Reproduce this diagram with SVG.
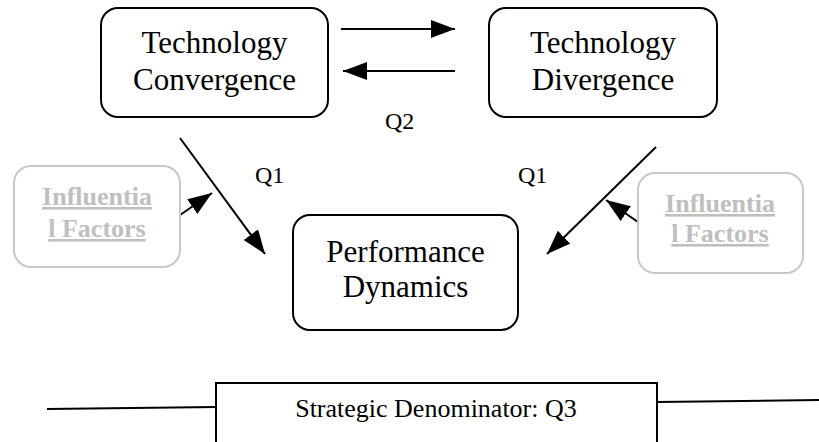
<svg xmlns="http://www.w3.org/2000/svg" width="819" height="442" viewBox="0 0 819 442">
<defs>
<style>
.node{fill:#fff;stroke:#000;stroke-width:2}
.inf{fill:#fff;stroke:#c8c8c8;stroke-width:2}
.lbl{font-family:"Liberation Serif","Times New Roman",serif;font-size:31px;fill:#000;text-anchor:middle}
.q{font-family:"Liberation Serif","Times New Roman",serif;font-size:24px;fill:#000}
.inft{font-family:"Liberation Serif","Times New Roman",serif;font-size:26px;font-weight:bold;fill:#bfbfbf;text-anchor:middle;text-decoration:underline}
.bt{font-family:"Liberation Serif","Times New Roman",serif;font-size:26px;fill:#000;text-anchor:middle}
.conn{stroke:#000;stroke-width:2;fill:none}
</style>
<marker id="ah" markerUnits="userSpaceOnUse" markerWidth="24" markerHeight="18" viewBox="0 0 24 18" refX="24" refY="9" orient="auto">
<path d="M0,0 L24,9 L0,18 Z" fill="#000"/>
</marker>
</defs>
<rect width="819" height="442" fill="#fff"/>
<g id="connectors">
<line class="conn" x1="341" y1="29" x2="455" y2="29" marker-end="url(#ah)"/>
<line class="conn" x1="455" y1="71" x2="343" y2="71" marker-end="url(#ah)"/>
<line class="conn" x1="180" y1="138" x2="265" y2="254" marker-end="url(#ah)"/>
<line class="conn" x1="656" y1="147" x2="547" y2="254" marker-end="url(#ah)"/>
<line class="conn" x1="180" y1="215" x2="212" y2="193" marker-end="url(#ah)"/>
<line class="conn" x1="638" y1="222" x2="606" y2="200" marker-end="url(#ah)"/>
<line class="conn" x1="47" y1="409" x2="216" y2="407"/>
<line class="conn" x1="657" y1="402" x2="819" y2="400"/>
<text class="q" x="385" y="129">Q2</text>
<text class="q" x="255" y="183">Q1</text>
<text class="q" x="518" y="183">Q1</text>
</g>
<g id="tech-convergence">
<rect class="node" x="101" y="8" width="227" height="109" rx="17"/>
<text class="lbl" x="214.5" y="53">Technology</text>
<text class="lbl" x="214.5" y="90">Convergence</text>
</g>
<g id="tech-divergence">
<rect class="node" x="489" y="8" width="228" height="109" rx="17"/>
<text class="lbl" x="603" y="53">Technology</text>
<text class="lbl" x="603" y="90">Divergence</text>
</g>
<g id="performance-dynamics">
<rect class="node" x="293" y="215" width="225" height="115" rx="17"/>
<text class="lbl" x="405.5" y="262">Performance</text>
<text class="lbl" x="405.5" y="297">Dynamics</text>
</g>
<g id="influential-left">
<rect class="inf" x="14" y="166" width="166" height="101" rx="17"/>
<text class="inft" x="97" y="205">Influentia</text>
<text class="inft" x="97" y="237">l Factors</text>
</g>
<g id="influential-right">
<rect class="inf" x="638" y="173" width="165" height="100" rx="17"/>
<text class="inft" x="720" y="212">Influentia</text>
<text class="inft" x="720" y="242">l Factors</text>
</g>
<g id="strategic-denominator">
<rect class="node" x="216" y="383" width="441" height="80"/>
<text class="bt" x="436" y="417">Strategic Denominator: Q3</text>
</g>
</svg>
